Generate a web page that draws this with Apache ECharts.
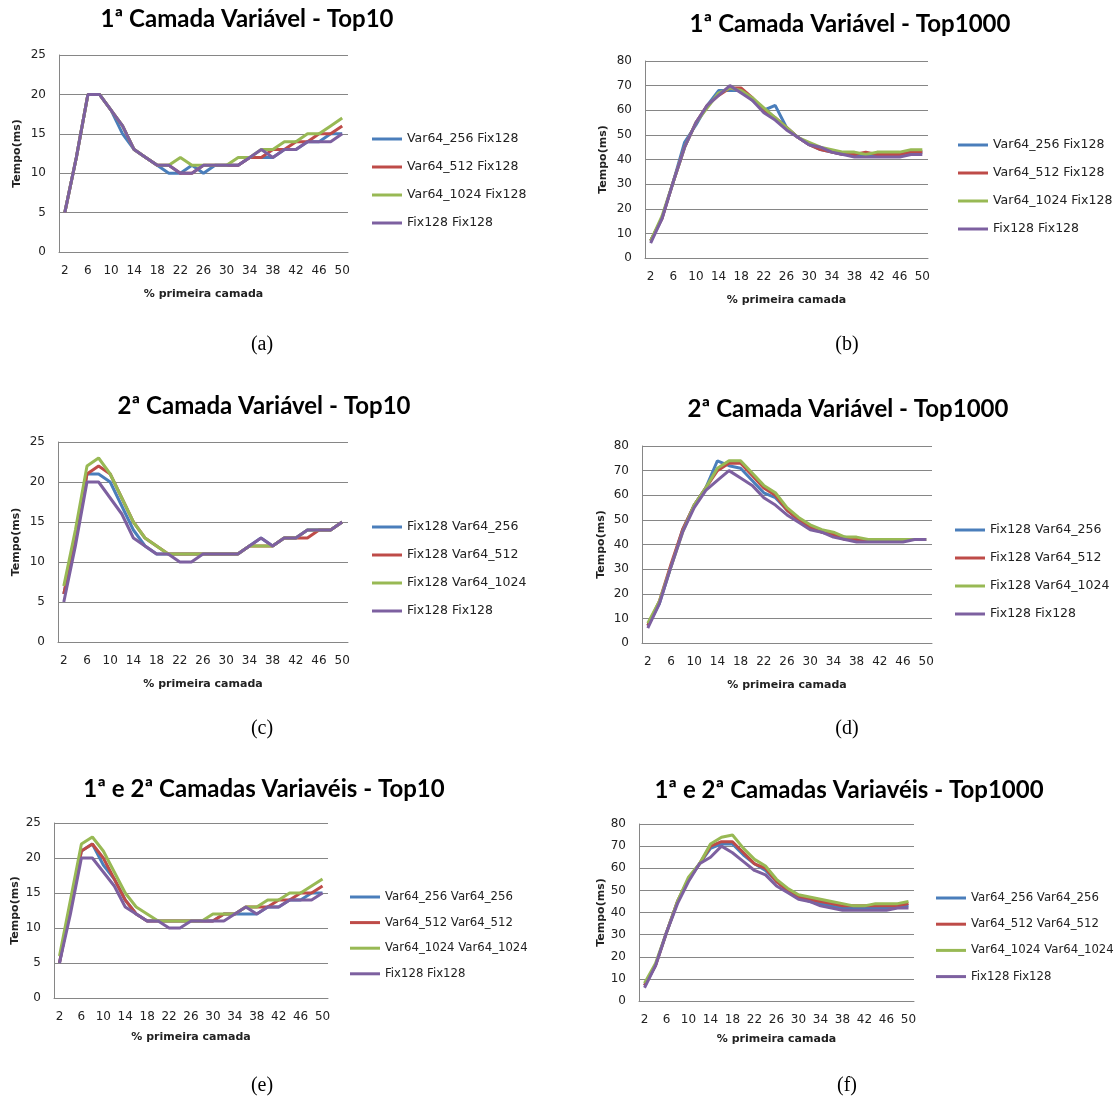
<!DOCTYPE html>
<html lang="pt">
<head>
<meta charset="UTF-8">
<title>Tempo x % primeira camada</title>
<style>
    html, body { margin: 0; padding: 0; background: #fff; }
    #main { width: 1116px; height: 1101px; }
</style>
</head>
<body>
<div id="main"></div>
<script src="https://cdn.jsdelivr.net/npm/echarts@6/dist/echarts.min.js"></script>
<script>
// eixo x: % primeira camada
var categorias = ['2', '4', '6', '8', '10', '12', '14', '16', '18', '20', '22', '24', '26',
    '28', '30', '32', '34', '36', '38', '40', '42', '44', '46', '48', '50'];

// nomes das séries (legendas)
var nomesA = ['Var64_256 Fix128', 'Var64_512 Fix128', 'Var64_1024 Fix128', 'Fix128 Fix128'];
var nomesC = ['Fix128 Var64_256', 'Fix128 Var64_512', 'Fix128 Var64_1024', 'Fix128 Fix128'];
var nomesE = ['Var64_256 Var64_256', 'Var64_512 Var64_512', 'Var64_1024 Var64_1024', 'Fix128 Fix128'];

// (a) 1ª camada variável - Top10
var a_256 = [5, 12, 20, 20, 18, 15, 13, 12, 11, 10, 10, 11, 10, 11, 11, 11, 12, 12, 12, 13, 13, 14, 14, 15, 15];
var a_512 = [5, 12, 20, 20, 18, 16, 13, 12, 11, 11, 10, 10, 11, 11, 11, 11, 12, 12, 13, 13, 14, 14, 15, 15, 16];
var a_1024 = [5, 12, 20, 20, 18, 16, 13, 12, 11, 11, 12, 11, 11, 11, 11, 12, 12, 13, 13, 14, 14, 15, 15, 16, 17];
var a_fix = [5, 12, 20, 20, 18, 16, 13, 12, 11, 11, 10, 10, 11, 11, 11, 11, 12, 13, 12, 13, 13, 14, 14, 14, 15];

// (b) 1ª camada variável - Top1000
var b_256 = [7, 16, 31, 47, 54, 62, 68, 68, 68, 64, 60, 62, 53, 49, 46, 44, 43, 42, 42, 42, 42, 42, 42, 43, 43];
var b_512 = [7, 16, 31, 45, 55, 62, 66, 69, 69, 65, 60, 57, 53, 49, 46, 44, 43, 42, 42, 43, 42, 42, 42, 43, 43];
var b_1024 = [7, 17, 31, 45, 55, 61, 67, 69, 68, 65, 61, 57, 53, 49, 47, 45, 44, 43, 43, 42, 43, 43, 43, 44, 44];
var b_fix = [6, 16, 31, 45, 55, 62, 66, 70, 67, 64, 59, 56, 52, 49, 46, 45, 43, 42, 41, 41, 41, 41, 41, 42, 42];

// (c) 2ª camada variável - Top10
var c_256 = [6, 13, 21, 21, 20, 17, 14, 12, 11, 11, 11, 11, 11, 11, 11, 11, 12, 13, 12, 13, 13, 14, 14, 14, 15];
var c_512 = [6, 13, 21, 22, 21, 18, 15, 13, 12, 11, 11, 11, 11, 11, 11, 11, 12, 12, 12, 13, 13, 13, 14, 14, 15];
var c_1024 = [7, 14, 22, 23, 21, 18, 15, 13, 12, 11, 11, 11, 11, 11, 11, 11, 12, 12, 12, 13, 13, 14, 14, 14, 15];
var c_fix = [5, 12, 20, 20, 18, 16, 13, 12, 11, 11, 10, 10, 11, 11, 11, 11, 12, 13, 12, 13, 13, 14, 14, 14, 15];

// (d) 2ª camada variável - Top1000
var d_256 = [7, 16, 31, 46, 56, 63, 74, 72, 71, 66, 61, 59, 54, 50, 47, 45, 44, 43, 42, 42, 42, 42, 42, 42, 42];
var d_512 = [7, 17, 32, 46, 56, 63, 70, 73, 73, 68, 63, 60, 54, 50, 47, 45, 44, 42, 42, 42, 42, 42, 42, 42, 42];
var d_1024 = [8, 17, 31, 45, 56, 63, 71, 74, 74, 69, 64, 61, 55, 51, 48, 46, 45, 43, 43, 42, 42, 42, 42, 42, 42];
var d_fix = [6, 16, 31, 45, 55, 62, 66, 70, 67, 64, 59, 56, 52, 49, 46, 45, 43, 42, 41, 41, 41, 41, 41, 42, 42];

// (e) 1ª e 2ª camadas variáveis - Top10
var e_256 = [5, 13, 21, 22, 19, 17, 14, 12, 11, 11, 11, 11, 11, 11, 11, 12, 12, 12, 12, 13, 13, 14, 14, 15, 15];
var e_512 = [5, 13, 21, 22, 20, 17, 14, 12, 11, 11, 11, 11, 11, 11, 11, 12, 12, 13, 13, 13, 14, 14, 15, 15, 16];
var e_1024 = [6, 14, 22, 23, 21, 18, 15, 13, 12, 11, 11, 11, 11, 11, 12, 12, 12, 13, 13, 14, 14, 15, 15, 16, 17];
var e_fix = [5, 12, 20, 20, 18, 16, 13, 12, 11, 11, 10, 10, 11, 11, 11, 11, 12, 13, 12, 13, 13, 14, 14, 14, 15];

// (f) 1ª e 2ª camadas variáveis - Top1000
var f_256 = [7, 16, 31, 45, 55, 62, 69, 71, 71, 66, 62, 59, 54, 50, 47, 45, 44, 43, 42, 42, 42, 42, 42, 43, 43];
var f_512 = [7, 16, 31, 45, 55, 62, 70, 72, 72, 67, 62, 60, 54, 50, 47, 46, 45, 44, 43, 43, 43, 43, 43, 43, 44];
var f_1024 = [8, 17, 31, 45, 56, 62, 71, 74, 75, 69, 64, 61, 55, 51, 48, 47, 46, 45, 44, 43, 43, 44, 44, 44, 45];
var f_fix = [6, 16, 31, 44, 54, 62, 65, 70, 67, 63, 59, 57, 52, 49, 46, 45, 43, 42, 41, 41, 41, 41, 41, 42, 42];

var cores = ['#4A7EBB', '#BE4B48', '#98B954', '#7D60A0'];
var cinza = '#868686';

var paineis = [
    { titulo: '1ª Camada Variável - Top10', letra: '(a)', nomes: nomesA, dados: [a_256, a_512, a_1024, a_fix], max: 25, passo: 5,
      grid: { left: 59, top: 55, width: 289, height: 197 }, tx: 247, ty: 20, lx: 262, ly: 345,
      leg: { left: 372, top: 132, gap: 14, size: 12.5 }, gapX: 37, gapY: 36 },
    { titulo: '1ª Camada Variável - Top1000', letra: '(b)', nomes: nomesA, dados: [b_256, b_512, b_1024, b_fix], max: 80, passo: 10,
      grid: { left: 645, top: 61, width: 283, height: 197 }, tx: 850, ty: 25, lx: 847, ly: 345,
      leg: { left: 958, top: 138, gap: 14, size: 12.5 }, gapX: 37, gapY: 36 },
    { titulo: '2ª Camada Variável - Top10', letra: '(c)', nomes: nomesC, dados: [c_256, c_512, c_1024, c_fix], max: 25, passo: 5,
      grid: { left: 58, top: 442, width: 290, height: 200 }, tx: 264, ty: 407, lx: 262, ly: 729,
      leg: { left: 372, top: 520, gap: 14, size: 12.5 }, gapX: 37, gapY: 36 },
    { titulo: '2ª Camada Variável - Top1000', letra: '(d)', nomes: nomesC, dados: [d_256, d_512, d_1024, d_fix], max: 80, passo: 10,
      grid: { left: 642, top: 446, width: 290, height: 197 }, tx: 848, ty: 410, lx: 847, ly: 729,
      leg: { left: 955, top: 523, gap: 14, size: 12.5 }, gapX: 37, gapY: 35 },
    { titulo: '1ª e 2ª Camadas Variavéis - Top10', letra: '(e)', nomes: nomesE, dados: [e_256, e_512, e_1024, e_fix], max: 25, passo: 5,
      grid: { left: 54, top: 823, width: 274, height: 175 }, tx: 264, ty: 790, lx: 262, ly: 1086,
      leg: { left: 350, top: 890, gap: 11.6, size: 11.7 }, gapX: 34, gapY: 33 },
    { titulo: '1ª e 2ª Camadas Variavéis - Top1000', letra: '(f)', nomes: nomesE, dados: [f_256, f_512, f_1024, f_fix], max: 80, passo: 10,
      grid: { left: 639, top: 824, width: 275, height: 177 }, tx: 849, ty: 791, lx: 847, ly: 1086,
      leg: { left: 936, top: 891, gap: 12.2, size: 11.7 }, gapX: 33, gapY: 31 }
];

var option = {
    backgroundColor: '#fff',
    animation: false,
    title: [], grid: [], xAxis: [], yAxis: [], legend: [], series: [], graphic: []
};

paineis.forEach(function (p, i) {
    option.title.push({
        text: p.titulo, left: p.tx, top: p.ty - 13, textAlign: 'center', padding: 0,
        textStyle: { fontFamily: 'Lato', fontWeight: 'bold', fontSize: 24, color: '#000' }
    });
    option.graphic.push({
        type: 'text', x: p.lx, y: p.ly,
        style: { text: p.letra, font: '20px "Liberation Serif"', fill: '#000', textAlign: 'center', textVerticalAlign: 'middle' }
    });
    option.grid.push({ left: p.grid.left, top: p.grid.top, width: p.grid.width, height: p.grid.height, containLabel: false });
    option.xAxis.push({
        type: 'category', gridIndex: i, data: categorias, boundaryGap: true,
        axisTick: { show: false },
        axisLine: { lineStyle: { color: cinza } },
        axisLabel: { interval: 1, margin: 13, fontFamily: 'DejaVu Sans', fontSize: 12, color: '#222' },
        name: '% primeira camada', nameLocation: 'middle', nameGap: p.gapX,
        nameTextStyle: { fontFamily: 'DejaVu Sans', fontWeight: 'bold', fontSize: 11, color: '#222' }
    });
    option.yAxis.push({
        type: 'value', gridIndex: i, min: 0, max: p.max, interval: p.passo,
        axisLine: { show: true, lineStyle: { color: cinza } },
        axisTick: { show: false },
        splitLine: { lineStyle: { color: cinza } },
        axisLabel: { margin: 13, fontFamily: 'DejaVu Sans', fontSize: 12, color: '#222' },
        name: 'Tempo(ms)', nameLocation: 'middle', nameGap: p.gapY, nameRotate: 90,
        nameTextStyle: { fontFamily: 'DejaVu Sans', fontWeight: 'bold', fontSize: 11, color: '#222' }
    });
    option.legend.push({
        data: p.nomes, orient: 'vertical', left: p.leg.left, top: p.leg.top, padding: 0,
        icon: 'rect', itemWidth: 30, itemHeight: 3, itemGap: p.leg.gap, itemTextGap: 2,
        textStyle: { fontFamily: 'DejaVu Sans', fontSize: p.leg.size, lineHeight: 14, color: '#222' }
    });
    p.dados.forEach(function (serie, k) {
        option.series.push({
            name: p.nomes[k], type: 'line', xAxisIndex: i, yAxisIndex: i,
            data: serie, symbol: 'none', color: cores[k],
            lineStyle: { width: 3, color: cores[k] }
        });
    });
});

var myChart = echarts.init(document.getElementById('main'));
myChart.setOption(option);
</script>
</body>
</html>
